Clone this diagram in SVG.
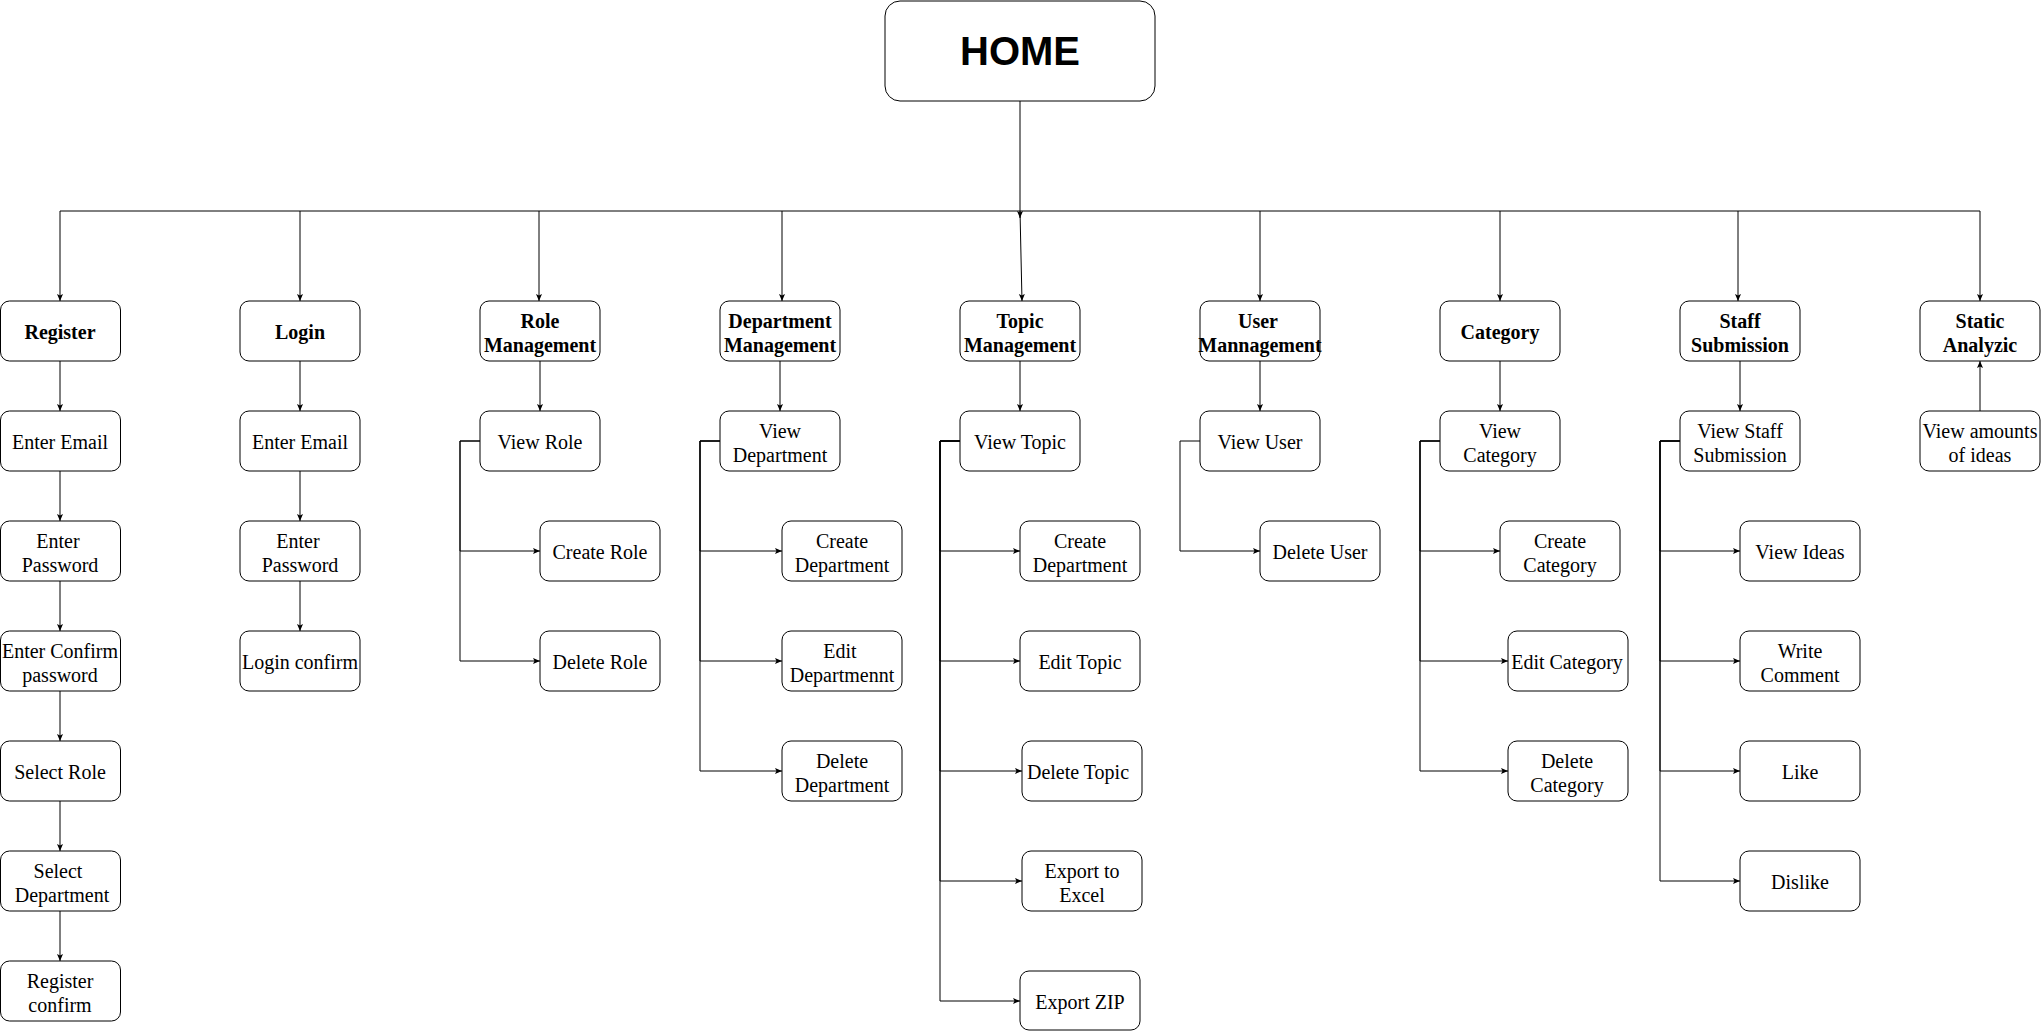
<svg xmlns="http://www.w3.org/2000/svg" width="2041" height="1031" viewBox="0 0 2041 1031">
<style>
.n{fill:#fff;stroke:#000;stroke-width:1}
.t{font-family:"Liberation Serif","Times New Roman",serif;font-size:20px;fill:#000;text-anchor:middle}
.b{font-weight:bold}
.h{font-family:"Liberation Sans",Arial,sans-serif;font-size:40px;font-weight:bold;fill:#000;text-anchor:middle}
.c{fill:none;stroke:#000;stroke-width:1}
</style>
<defs>
<marker id="a" markerWidth="8" markerHeight="8" refX="7" refY="3" orient="auto" markerUnits="userSpaceOnUse"><path d="M0,0 L7,3 L0,6 L1.5,3 z" fill="#000"/></marker>
</defs>
<rect width="2041" height="1031" fill="#fff"/>
<g id="connectors">
<path class="c" d="M60,211 H1980"/>
<path class="c" d="M1020,101 V218" marker-end="url(#a)"/>
<path class="c" d="M1020,211 L1022,301" marker-end="url(#a)"/>
<path class="c" d="M60,211 V301" marker-end="url(#a)"/>
<path class="c" d="M300,211 V301" marker-end="url(#a)"/>
<path class="c" d="M539,211 V301" marker-end="url(#a)"/>
<path class="c" d="M782,211 V301" marker-end="url(#a)"/>
<path class="c" d="M1260,211 V301" marker-end="url(#a)"/>
<path class="c" d="M1500,211 V301" marker-end="url(#a)"/>
<path class="c" d="M1738,211 V301" marker-end="url(#a)"/>
<path class="c" d="M1980,211 V301" marker-end="url(#a)"/>
<path class="c" d="M60,361 V411" marker-end="url(#a)"/>
<path class="c" d="M60,471 V521" marker-end="url(#a)"/>
<path class="c" d="M60,581 V631" marker-end="url(#a)"/>
<path class="c" d="M60,691 V741" marker-end="url(#a)"/>
<path class="c" d="M60,801 V851" marker-end="url(#a)"/>
<path class="c" d="M60,911 V961" marker-end="url(#a)"/>
<path class="c" d="M300,361 V411" marker-end="url(#a)"/>
<path class="c" d="M300,471 V521" marker-end="url(#a)"/>
<path class="c" d="M300,581 V631" marker-end="url(#a)"/>
<path class="c" d="M540,361 V411" marker-end="url(#a)"/>
<path class="c" d="M780,361 V411" marker-end="url(#a)"/>
<path class="c" d="M1020,361 V411" marker-end="url(#a)"/>
<path class="c" d="M1260,361 V411" marker-end="url(#a)"/>
<path class="c" d="M1500,361 V411" marker-end="url(#a)"/>
<path class="c" d="M1740,361 V411" marker-end="url(#a)"/>
<path class="c" d="M1980,411 V361" marker-end="url(#a)"/>
<path class="c" d="M480,441 H460 V551 H540" marker-end="url(#a)"/>
<path class="c" d="M480,441 H460 V661 H540" marker-end="url(#a)"/>
<path class="c" d="M720,441 H700 V551 H782" marker-end="url(#a)"/>
<path class="c" d="M720,441 H700 V661 H782" marker-end="url(#a)"/>
<path class="c" d="M720,441 H700 V771 H782" marker-end="url(#a)"/>
<path class="c" d="M960,441 H940 V551 H1020" marker-end="url(#a)"/>
<path class="c" d="M960,441 H940 V661 H1020" marker-end="url(#a)"/>
<path class="c" d="M960,441 H940 V771 H1022" marker-end="url(#a)"/>
<path class="c" d="M960,441 H940 V881 H1022" marker-end="url(#a)"/>
<path class="c" d="M960,441 H940 V1001 H1020" marker-end="url(#a)"/>
<path class="c" d="M1200,441 H1180 V551 H1260" marker-end="url(#a)"/>
<path class="c" d="M1440,441 H1420 V551 H1500" marker-end="url(#a)"/>
<path class="c" d="M1440,441 H1420 V661 H1508" marker-end="url(#a)"/>
<path class="c" d="M1440,441 H1420 V771 H1508" marker-end="url(#a)"/>
<path class="c" d="M1680,441 H1660 V551 H1740" marker-end="url(#a)"/>
<path class="c" d="M1680,441 H1660 V661 H1740" marker-end="url(#a)"/>
<path class="c" d="M1680,441 H1660 V771 H1740" marker-end="url(#a)"/>
<path class="c" d="M1680,441 H1660 V881 H1740" marker-end="url(#a)"/>
</g>
<g id="home"><rect class="n" x="885" y="1" width="270" height="100" rx="15"/><text class="h" x="1020" y="65">HOME</text></g>
<g id="register"><rect class="n" x="0.5" y="301" width="120" height="60" rx="9"/><text class="t b" x="60" y="339">Register</text></g>
<g id="login"><rect class="n" x="240" y="301" width="120" height="60" rx="9"/><text class="t b" x="300" y="339">Login</text></g>
<g id="role-management"><rect class="n" x="480" y="301" width="120" height="60" rx="9"/><text class="t b" x="540" y="328">Role</text><text class="t b" x="540" y="352">Management</text></g>
<g id="department-management"><rect class="n" x="720" y="301" width="120" height="60" rx="9"/><text class="t b" x="780" y="328">Department</text><text class="t b" x="780" y="352">Management</text></g>
<g id="topic-management"><rect class="n" x="960" y="301" width="120" height="60" rx="9"/><text class="t b" x="1020" y="328">Topic</text><text class="t b" x="1020" y="352">Management</text></g>
<g id="user-management"><rect class="n" x="1200" y="301" width="120" height="60" rx="9"/><text class="t b" x="1258" y="328">User</text><text class="t b" x="1260" y="352">Mannagement</text></g>
<g id="category"><rect class="n" x="1440" y="301" width="120" height="60" rx="9"/><text class="t b" x="1500" y="339">Category</text></g>
<g id="staff-submission"><rect class="n" x="1680" y="301" width="120" height="60" rx="9"/><text class="t b" x="1740" y="328">Staff</text><text class="t b" x="1740" y="352">Submission</text></g>
<g id="static-analyzic"><rect class="n" x="1920" y="301" width="120" height="60" rx="9"/><text class="t b" x="1980" y="328">Static</text><text class="t b" x="1980" y="352">Analyzic</text></g>

<g id="reg-email"><rect class="n" x="0.5" y="411" width="120" height="60" rx="9"/><text class="t" x="60" y="449">Enter Email</text></g>
<g id="reg-password"><rect class="n" x="0.5" y="521" width="120" height="60" rx="9"/><text class="t" x="58" y="548">Enter</text><text class="t" x="60" y="572">Password</text></g>
<g id="reg-confirm-password"><rect class="n" x="0.5" y="631" width="120" height="60" rx="9"/><text class="t" x="60" y="658">Enter Confirm</text><text class="t" x="60" y="682">password</text></g>
<g id="reg-select-role"><rect class="n" x="0.5" y="741" width="120" height="60" rx="9"/><text class="t" x="60" y="779">Select Role</text></g>
<g id="reg-select-department"><rect class="n" x="0.5" y="851" width="120" height="60" rx="9"/><text class="t" x="58" y="878">Select</text><text class="t" x="62" y="902">Department</text></g>
<g id="reg-confirm"><rect class="n" x="0.5" y="961" width="120" height="60" rx="9"/><text class="t" x="60" y="988">Register</text><text class="t" x="60" y="1012">confirm</text></g>

<g id="login-email"><rect class="n" x="240" y="411" width="120" height="60" rx="9"/><text class="t" x="300" y="449">Enter Email</text></g>
<g id="login-password"><rect class="n" x="240" y="521" width="120" height="60" rx="9"/><text class="t" x="298" y="548">Enter</text><text class="t" x="300" y="572">Password</text></g>
<g id="login-confirm"><rect class="n" x="240" y="631" width="120" height="60" rx="9"/><text class="t" x="300" y="669">Login confirm</text></g>

<g id="view-role"><rect class="n" x="480" y="411" width="120" height="60" rx="9"/><text class="t" x="540" y="449">View Role</text></g>
<g id="create-role"><rect class="n" x="540" y="521" width="120" height="60" rx="9"/><text class="t" x="600" y="559">Create Role</text></g>
<g id="delete-role"><rect class="n" x="540" y="631" width="120" height="60" rx="9"/><text class="t" x="600" y="669">Delete Role</text></g>

<g id="view-department"><rect class="n" x="720" y="411" width="120" height="60" rx="9"/><text class="t" x="780" y="438">View</text><text class="t" x="780" y="462">Department</text></g>
<g id="create-department"><rect class="n" x="782" y="521" width="120" height="60" rx="9"/><text class="t" x="842" y="548">Create</text><text class="t" x="842" y="572">Department</text></g>
<g id="edit-department"><rect class="n" x="782" y="631" width="120" height="60" rx="9"/><text class="t" x="840" y="658">Edit</text><text class="t" x="842" y="682">Departmennt</text></g>
<g id="delete-department"><rect class="n" x="782" y="741" width="120" height="60" rx="9"/><text class="t" x="842" y="768">Delete</text><text class="t" x="842" y="792">Department</text></g>

<g id="view-topic"><rect class="n" x="960" y="411" width="120" height="60" rx="9"/><text class="t" x="1020" y="449">View Topic</text></g>
<g id="topic-create-department"><rect class="n" x="1020" y="521" width="120" height="60" rx="9"/><text class="t" x="1080" y="548">Create</text><text class="t" x="1080" y="572">Department</text></g>
<g id="edit-topic"><rect class="n" x="1020" y="631" width="120" height="60" rx="9"/><text class="t" x="1080" y="669">Edit Topic</text></g>
<g id="delete-topic"><rect class="n" x="1022" y="741" width="120" height="60" rx="9"/><text class="t" x="1078" y="779">Delete Topic</text></g>
<g id="export-excel"><rect class="n" x="1022" y="851" width="120" height="60" rx="9"/><text class="t" x="1082" y="878">Export to</text><text class="t" x="1082" y="902">Excel</text></g>
<g id="export-zip"><rect class="n" x="1020" y="971" width="120" height="59" rx="9"/><text class="t" x="1080" y="1009">Export ZIP</text></g>

<g id="view-user"><rect class="n" x="1200" y="411" width="120" height="60" rx="9"/><text class="t" x="1260" y="449">View User</text></g>
<g id="delete-user"><rect class="n" x="1260" y="521" width="120" height="60" rx="9"/><text class="t" x="1320" y="559">Delete User</text></g>

<g id="view-category"><rect class="n" x="1440" y="411" width="120" height="60" rx="9"/><text class="t" x="1500" y="438">View</text><text class="t" x="1500" y="462">Category</text></g>
<g id="create-category"><rect class="n" x="1500" y="521" width="120" height="60" rx="9"/><text class="t" x="1560" y="548">Create</text><text class="t" x="1560" y="572">Category</text></g>
<g id="edit-category"><rect class="n" x="1508" y="631" width="120" height="60" rx="9"/><text class="t" x="1567" y="669">Edit Category</text></g>
<g id="delete-category"><rect class="n" x="1508" y="741" width="120" height="60" rx="9"/><text class="t" x="1567" y="768">Delete</text><text class="t" x="1567" y="792">Category</text></g>

<g id="view-staff-submission"><rect class="n" x="1680" y="411" width="120" height="60" rx="9"/><text class="t" x="1740" y="438">View Staff</text><text class="t" x="1740" y="462">Submission</text></g>
<g id="view-ideas"><rect class="n" x="1740" y="521" width="120" height="60" rx="9"/><text class="t" x="1800" y="559">View Ideas</text></g>
<g id="write-comment"><rect class="n" x="1740" y="631" width="120" height="60" rx="9"/><text class="t" x="1800" y="658">Write</text><text class="t" x="1800" y="682">Comment</text></g>
<g id="like"><rect class="n" x="1740" y="741" width="120" height="60" rx="9"/><text class="t" x="1800" y="779">Like</text></g>
<g id="dislike"><rect class="n" x="1740" y="851" width="120" height="60" rx="9"/><text class="t" x="1800" y="889">Dislike</text></g>

<g id="view-amounts"><rect class="n" x="1920" y="411" width="120" height="60" rx="9"/><text class="t" x="1980" y="438">View amounts</text><text class="t" x="1980" y="462">of ideas</text></g>
</svg>
